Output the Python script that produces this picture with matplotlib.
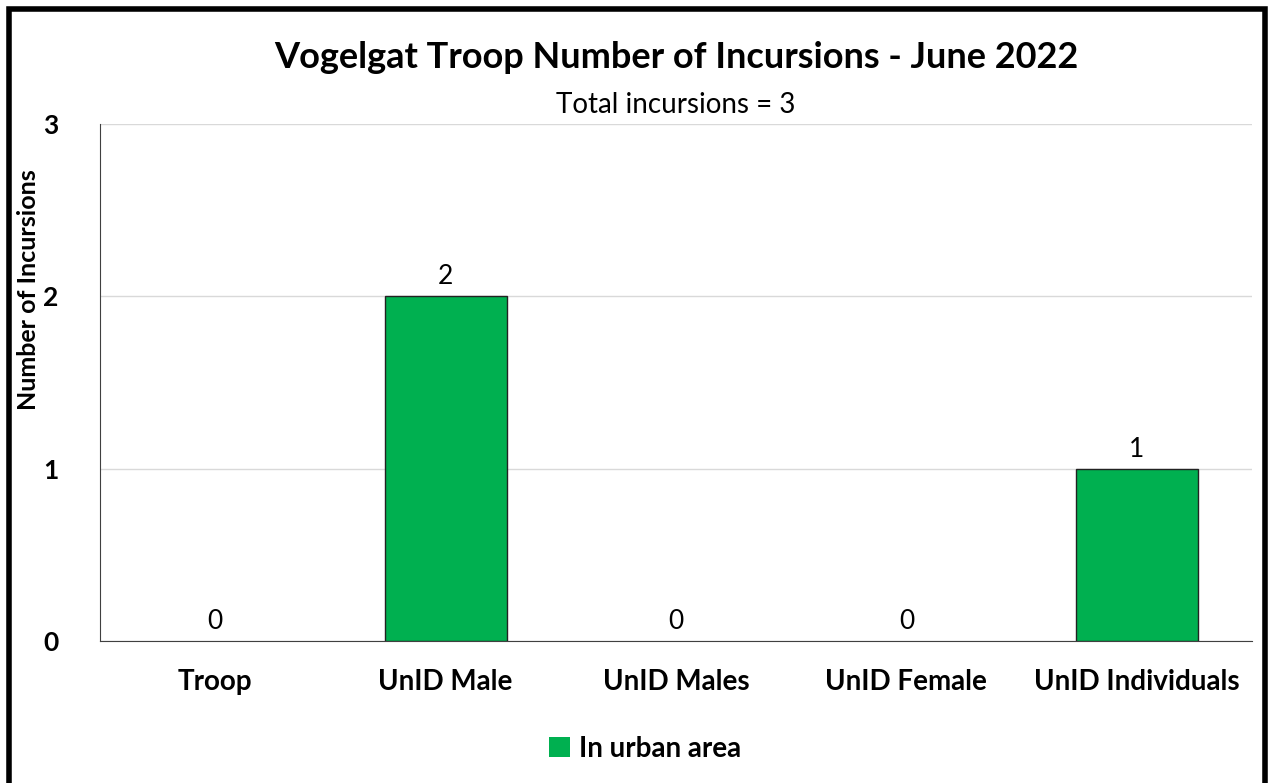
import matplotlib.pyplot as plt
from matplotlib.patches import Rectangle

plt.rcParams['font.family'] = ['Lato', 'DejaVu Sans']

categories = ['Troop', 'UnID Male', 'UnID Males', 'UnID Female', 'UnID Individuals']
urban = [0, 2, 0, 0, 1]

W, H = 1274, 783
fig = plt.figure(figsize=(W / 100, H / 100), dpi=100)
ax = fig.add_axes([100 / W, 1 - 641 / H, 1152 / W, 517 / H])

x = list(range(len(categories)))
bars = ax.bar(x, urban, width=0.53, color='#00B050', edgecolor='#222222',
              linewidth=1, label='In urban area', zorder=3)
for b, v in zip(bars, urban):
    if v == 0:
        b.set_linewidth(0)
for xi, v in zip(x, urban):
    ax.text(xi, v + 0.04, str(v), ha='center', va='bottom', fontsize=19)

ax.set_xlim(-0.5, len(categories) - 0.5)
ax.set_ylim(0, 3)
ax.set_yticks([0, 1, 2, 3])
ax.set_yticklabels(['0', '1', '2', '3'], fontsize=19, fontweight='bold')
ax.set_xticks(x)
ax.set_xticklabels(categories, fontsize=20, fontweight='bold')
ax.tick_params(axis='x', length=0, pad=20)
ax.tick_params(axis='y', length=0, pad=30)
ax.yaxis.grid(True, color='#d9d9d9', linewidth=1, zorder=0)
ax.spines['top'].set_visible(False)
ax.spines['right'].set_visible(False)
ax.spines['left'].set_color('#404040')
ax.spines['bottom'].set_color('#404040')

# y axis title
fig.text(29 / W, 1 - 290 / H, 'Number of Incursions', rotation=90,
         ha='center', va='center', fontsize=18, fontweight='bold')

cx = (100 + 1252) / 2 / W
fig.text(cx, 1 - 58 / H, 'Vogelgat Troop Number of Incursions - June 2022',
         ha='center', va='center', fontsize=26, fontweight='bold')
fig.text(cx, 1 - 105 / H, 'Total incursions = 3', ha='center', va='center', fontsize=20)

fig.legend(handles=[bars], loc='center', bbox_to_anchor=(645 / W, 1 - 749 / H),
           frameon=False, prop={'size': 20, 'weight': 'bold'},
           handlelength=0.75, handleheight=0.75, handletextpad=0.3)

# outer frame around the chart
fig.patches.append(Rectangle((9 / W, -0.05), 1256 / W, 1 - 9 / H + 0.05,
                             transform=fig.transFigure, fill=False,
                             edgecolor='black', linewidth=4))

fig.savefig('out.png', dpi=100)
